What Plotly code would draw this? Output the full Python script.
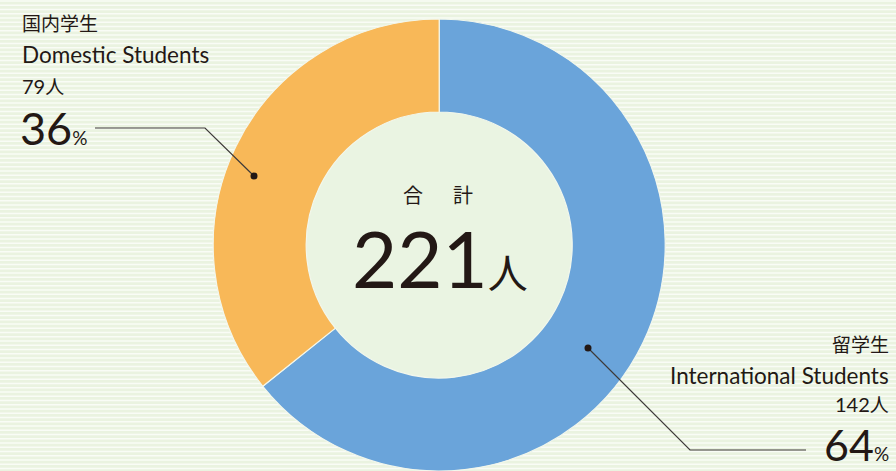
import plotly.graph_objects as go

# ---- data ----
labels = ["留学生 International Students", "国内学生 Domestic Students"]
counts = [142, 79]
percents = [64, 36]
total = 221
colors = ["#6AA4DA", "#F8B858"]

W, H = 896, 471
cx, cy, R = 439.2, 245.0, 226.0
hole_r = 133.0
TXT = "#231815"
LINE = "#3E3A39"
FONT = "Lato, 'Noto Sans CJK JP', sans-serif"


def px(x):
    return x / W


def py(y):
    return 1 - y / H


fig = go.Figure()
fig.add_trace(go.Pie(
    labels=labels, values=counts, sort=False, direction="clockwise", rotation=0,
    hole=hole_r / R,
    marker=dict(colors=colors, line=dict(color="#F2F7EC", width=1.2)),
    textinfo="none", hoverinfo="label+value+percent", showlegend=False,
    domain=dict(x=[px(cx - R), px(cx + R)], y=[py(cy + R), py(cy - R)]),
))

shapes = []
# striped background
y = 1.0
while y < H:
    shapes.append(dict(type="line", xref="paper", yref="paper", x0=0, x1=1,
                       y0=py(y), y1=py(y), line=dict(color="#F9FCF6", width=1.4),
                       layer="below"))
    y += 4.25
# hole fill
shapes.append(dict(type="circle", xref="paper", yref="paper",
                   x0=px(cx - hole_r), x1=px(cx + hole_r),
                   y0=py(cy + hole_r), y1=py(cy - hole_r),
                   fillcolor="#EAF4E2", line=dict(width=0), layer="below"))
# leader lines
shapes.append(dict(type="path", xref="paper", yref="paper",
                   path=f"M {px(254)} {py(176)} L {px(205)} {py(128)} L {px(95)} {py(128)}",
                   line=dict(color=LINE, width=1.2)))
shapes.append(dict(type="path", xref="paper", yref="paper",
                   path=f"M {px(588)} {py(348)} L {px(690)} {py(450)} L {px(806)} {py(450)}",
                   line=dict(color=LINE, width=1.2)))
for (dx, dy) in [(254, 176), (588, 348)]:
    shapes.append(dict(type="circle", xref="paper", yref="paper",
                       x0=px(dx - 3.5), x1=px(dx + 3.5), y0=py(dy + 3.5), y1=py(dy - 3.5),
                       fillcolor="#231815", line=dict(width=0)))

anns = []


def ann(text, x, y, size, anchor="left", vanchor="middle"):
    anns.append(dict(text=text, x=px(x), y=py(y), xref="paper", yref="paper",
                     xanchor=anchor, yanchor=vanchor, showarrow=False,
                     font=dict(family=FONT, size=size, color=TXT)))


# left block
ann("国内学生", 20, 24, 19)
ann("Domestic Students", 20, 55, 22.5)
ann(f"{counts[1]}<span style='font-size:19px'>人</span>", 20, 86, 20)
ann(f"{percents[1]}<span style='font-size:19px'>%</span>", 18, 128, 45)
# right block
ann("留学生", 891, 344, 19, "right")
ann("International Students", 891, 375, 22.5, "right")
ann(f"{counts[0]}<span style='font-size:19px'>人</span>", 891, 404, 20, "right")
ann(f"{percents[0]}<span style='font-size:19px'>%</span>", 891, 472, 43, "right", "bottom")
# center
ann("合", 413, 195, 20, "center")
ann("計", 463, 195, 20, "center")
ann(f"{total}<span style='font-size:40px'>人</span>", 440, 258, 78, "center")

fig.update_layout(
    width=W, height=H, margin=dict(l=0, r=0, t=0, b=0),
    paper_bgcolor="#EAF3E0", plot_bgcolor="#EAF3E0",
    shapes=shapes, annotations=anns,
)
fig.write_html("out.html", config={"displayModeBar": False},
               post_script="document.body.style.margin='0';document.body.style.overflow='hidden';")
